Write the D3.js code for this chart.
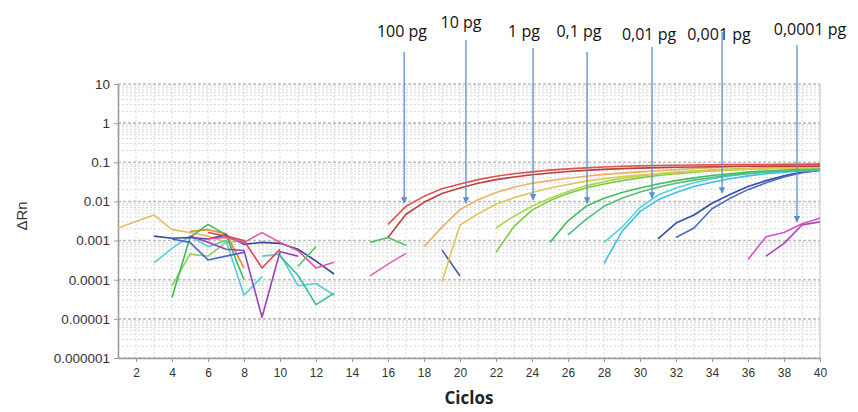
<!DOCTYPE html>
<html>
<head>
<meta charset="utf-8">
<script src="https://cdn.jsdelivr.net/npm/d3@7"></script>
<style>
  body { margin: 0; background: #fff; }
  svg { display: block; font-family: Arial, "Liberation Sans", sans-serif; }
</style>
</head>
<body>
<svg id="chart" width="858" height="412"></svg>
<script>
  // ---- data ----
  var xTicks = [2, 4, 6, 8, 10, 12, 14, 16, 18, 20, 22, 24, 26, 28, 30, 32, 34, 36, 38, 40];
  var yTicks = [10, 1, 0.1, 0.01, 0.001, 0.0001, 0.00001, 0.000001];
  var yTickLabels = ["10", "1", "0.1", "0.01", "0.001", "0.0001", "0.00001", "0.000001"];

  // amplification curves, one value per cycle starting at the cycle noted
  var pg100A = [0.0026, 0.0075, 0.0135, 0.021, 0.028, 0.036, 0.044, 0.051, 0.057, 0.063, 0.068, 0.072, 0.076, 0.079, 0.081, 0.083, 0.084, 0.085, 0.086, 0.087, 0.088, 0.088, 0.089, 0.089, 0.09]; // from 16
  var pg100B = [0.0012, 0.0047, 0.0095, 0.016, 0.022, 0.029, 0.036, 0.042, 0.048, 0.053, 0.058, 0.062, 0.066, 0.069, 0.071, 0.073, 0.075, 0.076, 0.077, 0.078, 0.079, 0.079, 0.08, 0.08, 0.08]; // from 16
  var pg10A = [0.0007, 0.0022, 0.0062, 0.011, 0.017, 0.023, 0.029, 0.034, 0.039, 0.044, 0.049, 0.053, 0.057, 0.061, 0.065, 0.069, 0.073, 0.077, 0.08, 0.083, 0.086, 0.089, 0.092]; // from 18
  var pg10B = [0.00009, 0.0025, 0.0048, 0.0085, 0.0125, 0.017, 0.022, 0.027, 0.033, 0.038, 0.043, 0.047, 0.051, 0.055, 0.058, 0.061, 0.064, 0.067, 0.069, 0.071, 0.073, 0.075]; // from 19
  var pg1A = [0.0021, 0.0042, 0.0075, 0.012, 0.018, 0.025, 0.032, 0.039, 0.045, 0.051, 0.056, 0.06, 0.064, 0.067, 0.07, 0.072, 0.074, 0.075, 0.076]; // from 22
  var pg1B = [0.0005, 0.0023, 0.006, 0.0105, 0.016, 0.022, 0.028, 0.034, 0.04, 0.046, 0.051, 0.056, 0.06, 0.064, 0.067, 0.069, 0.071, 0.072, 0.073]; // from 22
  var pg01A = [0.0009, 0.0032, 0.0075, 0.012, 0.017, 0.022, 0.028, 0.034, 0.04, 0.046, 0.051, 0.056, 0.06, 0.063, 0.065, 0.067]; // from 25
  var pg01B = [0.0014, 0.0035, 0.0075, 0.012, 0.0175, 0.023, 0.029, 0.035, 0.041, 0.047, 0.052, 0.057, 0.061, 0.064, 0.066]; // from 26
  var pg001A = [0.0009, 0.0022, 0.007, 0.0145, 0.022, 0.03, 0.038, 0.045, 0.051, 0.056, 0.059, 0.062, 0.064]; // from 28
  var pg001B = [0.00026, 0.0017, 0.0055, 0.011, 0.017, 0.024, 0.031, 0.038, 0.045, 0.051, 0.056, 0.06, 0.062]; // from 28
  var pg0001A = [0.0011, 0.0028, 0.0045, 0.009, 0.015, 0.024, 0.034, 0.045, 0.056, 0.063]; // from 31
  var pg0001B = [0.0012, 0.0021, 0.0065, 0.012, 0.02, 0.03, 0.042, 0.054, 0.062]; // from 32
  var pg00001A = [0.00033, 0.00125, 0.0016, 0.0027, 0.0037]; // from 36
  var pg00001B = [0.0004, 0.00085, 0.0025, 0.003]; // from 37

  // baseline noise pieces, [cycle, value]
  var noiseGold = [[1, 0.0021], [3, 0.0045], [4, 0.0019], [5, 0.0016], [6, 0.0013], [7, 0.0009]];
  var noiseOrange = [[5, 0.0017], [6, 0.0019], [7, 0.0015], [8, 0.0002]];
  var noiseNavy = [[3, 0.0013], [4, 0.00115], [5, 0.0012], [6, 0.0011], [7, 0.0014], [8, 0.0008], [9, 0.0009], [10, 0.00085], [11, 0.0006], [12, 0.0003], [13, 0.00014]];
  var noiseBlue = [[4, 0.0011], [5, 0.0009], [6, 0.00032], [7, 0.0004], [8, 0.0005]];
  var noiseMagenta = [[6, 0.0011], [7, 0.0012], [8, 0.0009], [9, 0.0016], [10, 0.0009], [11, 0.00055], [12, 0.0002], [13, 0.00028]];
  var noiseRed = [[6, 0.0016], [7, 0.0013], [8, 0.001], [9, 0.0002], [10, 0.0006]];
  var noisePurple = [[5, 0.0013], [6, 0.0009], [7, 0.0006], [8, 0.00056], [9, 0.000011], [10, 0.00052], [11, 0.0004]];
  var noiseCyan = [[3, 0.00027], [4, 0.00063], [5, 0.0013], [6, 0.0007], [7, 0.001], [8, 0.00004], [9, 0.00012]];
  var noiseCyan2 = [[9, 0.0004], [10, 0.00045], [11, 0.00007], [12, 0.00008], [13, 0.00004]];
  var noiseGreen = [[4, 0.000035], [5, 0.0012], [6, 0.0026], [7, 0.0014], [8, 0.0001]];
  var noiseLightGreen = [[4, 0.00007], [5, 0.00045], [6, 0.0004], [7, 0.0009], [8, 0.001]];
  var noiseTeal = [[10, 0.0004], [11, 0.00013], [12, 0.000023], [13, 0.000045]];
  var noiseGreen2 = [[11, 0.00022], [12, 0.0007]];
  var fragGreen = [[15, 0.0009], [16, 0.0012], [17, 0.00076]];
  var fragPink = [[15, 0.000125], [16, 0.00025], [17, 0.00047]];
  var fragNavy = [[19, 0.00057], [20, 0.000125]];

  // annotations: label text, and where each arrow points (cycle, value)
  var annLabels = ["100 pg", "10 pg", "1 pg", "0,1 pg", "0,01 pg", "0,001 pg", "0,0001 pg"];
  var annCycles = [16.9, 20.33, 24.06, 27.06, 30.67, 34.56, 38.72];
  var annValues = [0.0091, 0.0091, 0.0109, 0.0091, 0.0122, 0.0164, 0.003];

  // ---- layout ----
  var svg = d3.select("#chart");
  var plotL = 118, plotR = 820, plotT = 84, plotB = 358;

  var x = d3.scaleLinear().domain([1, 40]).range([plotL, plotR]);
  var y = d3.scaleLog().domain([0.000001, 10]).range([plotB, plotT]);

  function fromCycle(start, vals) {
    return vals.map(function(v, i) { return [start + i, v]; });
  }

  var curves = [
    { pts: noiseGold, color: "#e6bb63" },
    { pts: noiseOrange, color: "#e8892e" },
    { pts: noiseLightGreen, color: "#8fd45a" },
    { pts: noiseGreen, color: "#3cba55" },
    { pts: noiseCyan, color: "#4fd0d8" },
    { pts: noiseCyan2, color: "#5cc8e0" },
    { pts: noiseBlue, color: "#4a6ad0" },
    { pts: noiseNavy, color: "#3a4a98" },
    { pts: noiseRed, color: "#e0454a" },
    { pts: noisePurple, color: "#9a40b8" },
    { pts: noiseMagenta, color: "#e055a8" },
    { pts: noiseTeal, color: "#3cc08c" },
    { pts: noiseGreen2, color: "#52cc5a" },
    { pts: fragGreen, color: "#52c06a" },
    { pts: fragPink, color: "#e060b8" },
    { pts: fragNavy, color: "#4a58a8" },
    { pts: fromCycle(36, pg00001A), color: "#d452c8" },
    { pts: fromCycle(37, pg00001B), color: "#a445b2" },
    { pts: fromCycle(31, pg0001A), color: "#3550a8" },
    { pts: fromCycle(32, pg0001B), color: "#5068c4" },
    { pts: fromCycle(28, pg001A), color: "#55d2dc" },
    { pts: fromCycle(28, pg001B), color: "#3fc0e2" },
    { pts: fromCycle(25, pg01A), color: "#3fc060" },
    { pts: fromCycle(26, pg01B), color: "#55bd7c" },
    { pts: fromCycle(22, pg1A), color: "#a9d84a" },
    { pts: fromCycle(22, pg1B), color: "#7ccc3e" },
    { pts: fromCycle(19, pg10B), color: "#e2c653" },
    { pts: fromCycle(18, pg10A), color: "#f0b062" },
    { pts: fromCycle(16, pg100B), color: "#b8413b" },
    { pts: fromCycle(16, pg100A), color: "#e05252" }
  ];

  // grid
  var grid = svg.append("g");
  d3.range(1, 41).forEach(function(c) {
    grid.append("line")
      .attr("x1", x(c)).attr("x2", x(c))
      .attr("y1", plotT).attr("y2", plotB)
      .attr("stroke", "#dcdcdc")
      .attr("stroke-dasharray", "2,2");
  });
  yTicks.slice(1).forEach(function(d) {
    d3.range(2, 10).forEach(function(k) {
      grid.append("line")
        .attr("x1", plotL).attr("x2", plotR)
        .attr("y1", y(d * k)).attr("y2", y(d * k))
        .attr("stroke", "#d6d6d6")
        .attr("stroke-dasharray", "2,2");
    });
  });
  yTicks.forEach(function(d) {
    grid.append("line")
      .attr("x1", plotL).attr("x2", plotR)
      .attr("y1", y(d)).attr("y2", y(d))
      .attr("stroke", "#bdbdbd")
      .attr("stroke-width", 1.6)
      .attr("stroke-dasharray", "3,2");
  });
  grid.append("line")
    .attr("x1", plotR).attr("x2", plotR).attr("y1", plotT).attr("y2", plotB)
    .attr("stroke", "#c8c8c8");

  // axes
  var xAxis = svg.append("g")
    .attr("transform", "translate(0," + plotB + ")")
    .call(d3.axisBottom(x).tickValues(xTicks).tickSize(4).tickPadding(6).tickSizeOuter(0));
  xAxis.select(".domain").attr("stroke", "#9a9a9a").attr("stroke-width", 1.5);
  xAxis.selectAll(".tick line").attr("stroke", "#9a9a9a");
  xAxis.selectAll(".tick text")
    .attr("fill", "#333")
    .style("font-family", "'Liberation Sans Narrow', 'Arial Narrow', Arial, sans-serif")
    .style("font-size", "12px");

  var yAxis = svg.append("g")
    .attr("transform", "translate(" + plotL + ",0)")
    .call(d3.axisLeft(y).tickValues(yTicks)
      .tickFormat(function(d, i) { return yTickLabels[i]; })
      .tickSize(4).tickPadding(4).tickSizeOuter(0));
  yAxis.select(".domain").attr("stroke", "#9a9a9a").attr("stroke-width", 1.5);
  yAxis.selectAll(".tick line").attr("stroke", "#9a9a9a");
  yAxis.selectAll(".tick text")
    .attr("fill", "#333")
    .style("font-size", "13.5px");

  // curves
  var line = d3.line()
    .x(function(d) { return x(d[0]); })
    .y(function(d) { return y(d[1]); });

  svg.append("g").selectAll("path")
    .data(curves)
    .enter().append("path")
    .attr("d", function(d) { return line(d.pts); })
    .attr("fill", "none")
    .attr("stroke", function(d) { return d.color; })
    .attr("stroke-width", 1.6)
    .attr("stroke-linejoin", "round");

  // axis titles
  svg.append("text")
    .attr("transform", "translate(27,216) rotate(-90)")
    .attr("text-anchor", "middle")
    .attr("fill", "#333")
    .style("font-size", "15px")
    .text("ΔRn");

  svg.append("text")
    .attr("x", 469).attr("y", 404)
    .attr("text-anchor", "middle")
    .attr("fill", "#222")
    .style("font-family", "'Open Sans', sans-serif")
    .style("font-weight", "bold")
    .style("font-size", "17px")
    .text("Ciclos");

  // annotation arrows
  var annPos = [[402, 37, 52], [461, 28, 40], [524, 37, 48], [579, 37, 52], [649, 40, 47], [719, 40, 32], [810, 35, 45]];

  svg.append("defs").append("marker")
    .attr("id", "arrow")
    .attr("viewBox", "0 0 10 10")
    .attr("refX", 9).attr("refY", 5)
    .attr("markerWidth", 5).attr("markerHeight", 5)
    .attr("orient", "auto")
    .append("path")
    .attr("d", "M0,0L10,5L0,10z")
    .attr("fill", "#5b8fcf");

  var ann = svg.append("g");
  annLabels.forEach(function(label, i) {
    ann.append("line")
      .attr("x1", x(annCycles[i])).attr("x2", x(annCycles[i]))
      .attr("y1", annPos[i][2]).attr("y2", y(annValues[i]))
      .attr("stroke", "#5b8fcf")
      .attr("stroke-width", 1.3)
      .attr("marker-end", "url(#arrow)");
    ann.append("text")
      .attr("x", annPos[i][0]).attr("y", annPos[i][1])
      .attr("text-anchor", "middle")
      .attr("fill", "#111")
      .style("font-family", "'Open Sans', sans-serif")
      .style("font-size", "16px")
      .text(label);
  });
</script>
</body>
</html>
